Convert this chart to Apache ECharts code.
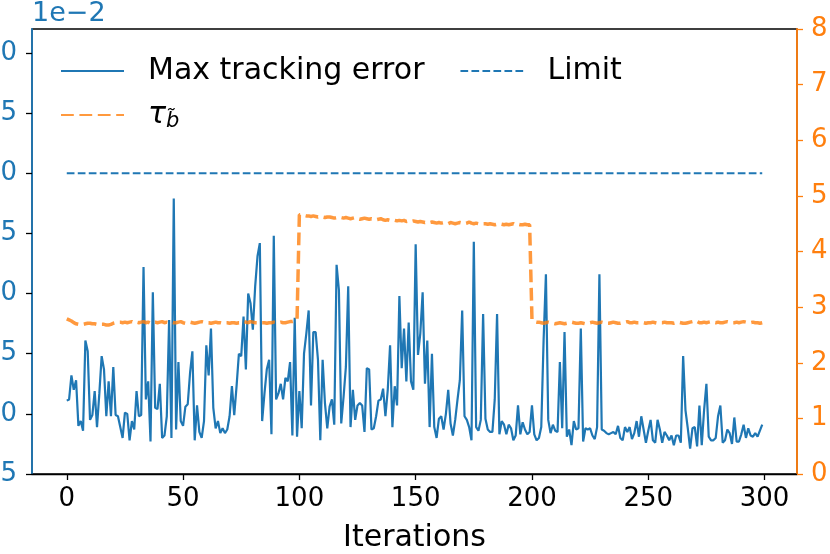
<!DOCTYPE html>
<html>
<head>
<meta charset="utf-8">
<script src="https://cdn.jsdelivr.net/npm/echarts@6/dist/echarts.min.js"></script>
<style>html,body{margin:0;padding:0;background:#fff;}#c{width:830px;height:554px;}</style>
</head>
<body>
<div id="c"></div>
<script>
// Max tracking error, in units of 1e-2 (iterations 0..299)
const maxError = [
1.11,1.12,1.32,1.20,1.28,0.90,0.94,0.86,1.61,1.52,0.95,0.99,1.19,0.89,1.17,1.48,1.37,0.98,1.27,0.98,
1.39,0.99,0.98,0.89,0.80,1.01,1.00,0.78,0.94,0.87,1.19,0.98,0.99,2.22,1.12,1.27,0.77,2.01,1.05,1.04,
1.25,0.80,0.82,0.98,1.78,0.80,2.79,0.87,1.43,0.94,0.90,1.06,1.08,1.34,1.52,0.78,1.07,0.85,0.80,0.94,
1.57,1.32,1.71,1.05,0.88,0.94,0.84,0.88,0.84,0.87,0.98,1.23,0.99,1.23,1.50,1.48,1.81,1.37,2.00,1.92,
1.70,2.06,2.31,2.42,0.94,1.17,1.37,1.45,0.83,2.48,1.12,1.17,1.25,1.12,1.30,1.27,1.43,0.82,1.80,0.81,
1.19,0.88,1.50,1.67,1.86,1.07,1.68,1.68,1.45,0.78,1.45,1.09,0.88,1.06,1.12,0.91,2.24,2.03,0.92,1.14,
1.39,2.06,0.89,1.20,0.95,1.07,1.09,1.07,0.85,1.38,1.37,0.87,0.88,0.98,1.11,1.12,1.21,0.98,1.20,1.57,
0.89,1.23,1.07,1.98,1.38,1.71,1.27,1.76,1.27,1.20,2.41,1.49,1.67,2.01,1.25,1.61,0.89,1.50,0.89,0.80,
0.96,0.98,0.87,1.00,1.20,0.92,0.82,0.95,1.12,1.28,1.86,0.98,0.95,0.89,0.78,2.43,0.89,0.86,0.95,1.83,
0.96,0.87,0.85,0.85,1.12,1.83,0.83,0.94,0.91,0.83,0.91,0.88,0.78,0.82,1.07,0.83,0.93,0.87,0.83,0.85,
1.07,0.83,0.78,0.80,0.89,1.61,2.16,0.95,0.84,0.91,0.86,0.85,1.43,0.88,1.68,0.81,0.87,0.74,0.94,0.87,
0.88,1.71,0.77,0.88,0.87,0.88,0.82,0.79,0.89,2.16,0.87,0.86,0.84,0.83,0.84,0.85,0.83,0.90,0.80,0.78,
0.89,0.85,0.89,0.79,0.84,0.94,0.81,0.98,0.87,0.76,0.86,0.95,0.78,0.76,0.95,0.87,0.76,0.85,0.82,0.78,
0.82,0.74,0.82,0.82,0.76,1.48,1.03,0.88,0.71,0.88,0.89,0.73,1.07,0.74,1.03,1.25,0.81,0.78,0.78,0.80,
0.98,1.07,0.76,0.78,0.87,0.84,0.75,0.97,0.77,0.77,0.83,0.91,0.80,0.88,0.82,0.81,0.84,0.81,0.86,0.91
];
// tau_b~ (right axis)
const tauValues = [
2.79,2.77,2.75,2.72,2.70,2.69,2.69,2.69,2.70,2.71,2.71,2.70,2.70,2.69,2.69,2.69,2.69,2.68,2.68,2.69,
2.71,2.72,2.73,2.73,2.72,2.73,2.72,2.73,2.74,2.72,2.73,2.72,2.73,2.74,2.72,2.73,2.71,2.72,2.73,2.72,
2.73,2.74,2.72,2.73,2.72,2.73,2.72,2.72,2.73,2.74,2.72,2.71,2.72,2.73,2.72,2.71,2.72,2.73,2.74,2.73,
2.72,2.72,2.71,2.72,2.73,2.72,2.72,2.71,2.72,2.72,2.71,2.72,2.72,2.71,2.72,2.72,2.74,2.73,2.72,2.74,
2.73,2.72,2.72,2.73,2.72,2.72,2.71,2.72,2.72,2.73,2.72,2.72,2.73,2.72,2.72,2.73,2.74,2.74,2.75,2.77,
4.66,4.66,4.65,4.64,4.64,4.63,4.64,4.63,4.62,4.63,4.62,4.61,4.62,4.62,4.61,4.60,4.61,4.62,4.61,4.60,
4.61,4.60,4.59,4.60,4.61,4.59,4.58,4.59,4.60,4.59,4.58,4.59,4.58,4.57,4.58,4.59,4.57,4.56,4.57,4.56,
4.57,4.56,4.55,4.56,4.55,4.56,4.54,4.55,4.54,4.55,4.54,4.53,4.54,4.53,4.52,4.53,4.52,4.53,4.52,4.51,
4.52,4.51,4.52,4.51,4.50,4.52,4.51,4.50,4.51,4.52,4.51,4.50,4.51,4.53,4.51,4.50,4.51,4.50,4.49,4.50,
4.50,4.49,4.50,4.49,4.48,4.49,4.50,4.49,4.48,4.49,4.48,4.49,4.50,4.48,4.49,4.48,4.48,4.49,4.48,4.48,
2.78,2.74,2.73,2.73,2.72,2.71,2.72,2.73,2.72,2.71,2.70,2.71,2.72,2.71,2.70,2.71,2.72,2.73,2.72,2.71,
2.71,2.72,2.71,2.70,2.71,2.72,2.73,2.72,2.71,2.72,2.73,2.72,2.71,2.71,2.72,2.73,2.72,2.71,2.71,2.72,
2.73,2.74,2.72,2.72,2.73,2.72,2.72,2.73,2.72,2.71,2.72,2.72,2.73,2.72,2.71,2.72,2.72,2.73,2.72,2.72,
2.72,2.71,2.72,2.73,2.72,2.71,2.71,2.72,2.73,2.74,2.76,2.74,2.72,2.72,2.73,2.72,2.73,2.74,2.73,2.72,
2.73,2.72,2.72,2.73,2.74,2.73,2.72,2.72,2.73,2.72,2.73,2.74,2.73,2.72,2.72,2.73,2.72,2.72,2.71,2.72
];
const limitX = [0, 299];
const limitY = [3.0, 3.0];
const xTicks = [0, 50, 100, 150, 200, 250, 300];
const leftTicks = [0.5, 1.0, 1.5, 2.0, 2.5, 3.0, 3.5, 4.0];
const rightTicks = [0, 1, 2, 3, 4, 5, 6, 7, 8];
const seriesNames = ['Max tracking error', 'Limit', 'τb̃'];

const BLUE = '#1f77b4', ORANGE = '#ff7f0e';
const FONT = 'DejaVu Sans';

const errData = maxError.map((v, i) => [i, v]);
const tauData = tauValues.map((v, i) => [i, v]);
const limitData = limitX.map((x, i) => [x, limitY[i]]);

const chart = echarts.init(document.getElementById('c'), null, {renderer: 'canvas'});
chart.setOption({
  animation: false,
  backgroundColor: '#fff',
  textStyle: {fontFamily: FONT},
  grid: {left: 32, right: 33, top: 29, bottom: 80, containLabel: false, outerBoundsMode: 'none',
    show: true, borderColor: '#000', borderWidth: 1.3, backgroundColor: 'transparent'},
  legend: [
    {
      data: [seriesNames[0], seriesNames[1]],
      left: 60, top: 56, padding: 0, itemWidth: 63, itemHeight: 2, itemGap: 35,
      itemStyle: {opacity: 0},
      textStyle: {fontFamily: FONT, fontSize: 30, color: '#000', padding: [0, 0, 0, 19]},
      selectedMode: false
    },
    {
      data: [seriesNames[2]],
      left: 60, top: 100, padding: 0, itemWidth: 63, itemHeight: 2,
      itemStyle: {opacity: 0},
      selectedMode: false,
      formatter: function () { return '{t|τ}{s|b̃}'; },
      textStyle: {fontFamily: FONT, fontSize: 30, color: '#000', padding: [0, 0, 0, 19],
        rich: {
          t: {fontFamily: FONT, fontSize: 30, fontStyle: 'italic', color: '#000'},
          s: {fontFamily: FONT, fontSize: 21, fontStyle: 'italic', color: '#000', padding: [14, 0, 0, 0]}
        }}
    }
  ],
  xAxis: {
    type: 'value', min: -14.95, max: 313.95,
    name: 'Iterations', nameLocation: 'middle', nameGap: 49,
    nameTextStyle: {fontFamily: FONT, fontSize: 30, color: '#000'},
    axisLine: {show: true, onZero: false, lineStyle: {color: '#000', width: 1.3}},
    axisTick: {show: true, length: 6, lineStyle: {color: '#000', width: 1.3}, customValues: xTicks},
    axisLabel: {show: true, fontFamily: FONT, fontSize: 26, color: '#000', margin: 12, customValues: xTicks,
      formatter: v => String(v)},
    splitLine: {show: false}
  },
  yAxis: [
    {
      type: 'value', min: 0.5, max: 4.2, position: 'left',
      name: '1e−2', nameLocation: 'end', nameGap: 2,
      nameTextStyle: {fontFamily: FONT, fontSize: 27, color: BLUE, align: 'left', padding: [0, 0, 0, 0]},
      axisLine: {show: true, onZero: false, lineStyle: {color: BLUE, width: 1.8}},
      axisTick: {show: true, length: 6, lineStyle: {color: '#000', width: 1.3}, customValues: leftTicks},
      axisLabel: {show: true, fontFamily: FONT, fontSize: 26, color: BLUE, margin: 15, customValues: leftTicks,
        formatter: v => v.toFixed(1)},
      splitLine: {show: false}
    },
    {
      type: 'value', min: 0, max: 8, interval: 1, position: 'right',
      axisLine: {show: true, onZero: false, lineStyle: {color: ORANGE, width: 1.8}},
      axisTick: {show: true, length: 6, lineStyle: {color: ORANGE, width: 1.3}},
      axisLabel: {show: true, fontFamily: FONT, fontSize: 26, color: ORANGE, margin: 14},
      splitLine: {show: false}
    }
  ],
  series: [
    {
      name: seriesNames[0], type: 'line', data: errData, yAxisIndex: 0,
      showSymbol: false, symbol: 'none',
      lineStyle: {color: BLUE, width: 2.2}, itemStyle: {color: BLUE}, z: 3
    },
    {
      name: seriesNames[1], type: 'line', data: limitData, yAxisIndex: 0,
      showSymbol: false, symbol: 'none',
      lineStyle: {color: BLUE, width: 2.1, type: [7.7, 3.3]}, itemStyle: {color: BLUE}, z: 2
    },
    {
      name: seriesNames[2], type: 'line', data: tauData, yAxisIndex: 1,
      showSymbol: false, symbol: 'none',
      lineStyle: {color: ORANGE, width: 3.5, opacity: 0.8, type: [12.8, 5.6]}, itemStyle: {color: ORANGE, opacity: 0.8}, z: 4
    }
  ]
});
</script>
</body>
</html>
